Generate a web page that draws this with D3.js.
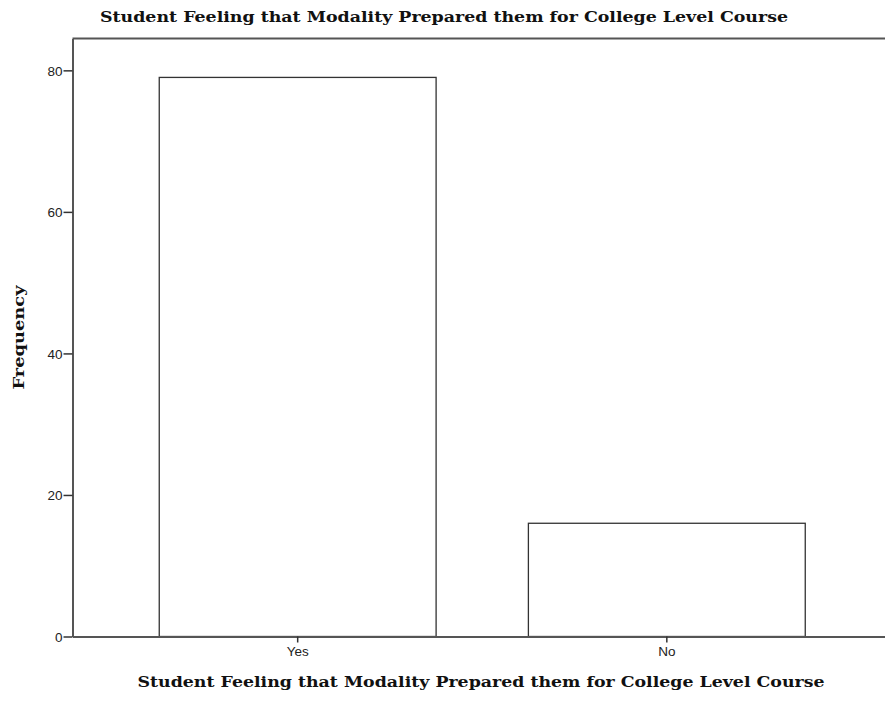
<!DOCTYPE html>
<html>
<head>
<meta charset="utf-8">
<script src="https://cdn.jsdelivr.net/npm/d3@7"></script>
<style>
  body { margin: 0; background: #fff; }
  svg { display: block; }
</style>
</head>
<body>
<main></main>
<script>
const width = 885;
const height = 705;
const margin = { top: 38.5, right: -7, bottom: 68.5, left: 72.5 };

const categories = ['Yes', 'No'];
const frequencies = [79, 16];
const yTicks = [0, 20, 40, 60, 80];
const chartTitle = 'Student Feeling that Modality Prepared them for College Level Course';
const yTitle = 'Frequency';

const data = categories.map((c, i) => ({ label: c, value: frequencies[i] }));

const svg = d3.select('main')
              .append('svg')
              .attr('width', width)
              .attr('height', height);

const x = d3.scaleBand()
            .domain(categories)
            .range([margin.left, width - margin.right])
            .paddingInner(0.25)
            .paddingOuter(0.235);

const y = d3.scaleLinear()
            .domain([0, 84.5])
            .range([height - margin.bottom, margin.top]);

// frame top line
svg.append('line')
   .attr('x1', margin.left).attr('x2', width)
   .attr('y1', margin.top).attr('y2', margin.top)
   .attr('stroke', '#555').attr('stroke-width', 2);

// bars
svg.selectAll('rect.bar')
   .data(data)
   .enter()
   .append('rect')
   .attr('class', 'bar')
   .attr('x', d => x(d.label))
   .attr('y', d => y(d.value))
   .attr('width', x.bandwidth())
   .attr('height', d => y(0) - y(d.value))
   .attr('fill', '#fff')
   .attr('stroke', '#333')
   .attr('stroke-width', 1.3);

const yAxis = svg.append('g')
   .attr('transform', 'translate(' + margin.left + ',0)')
   .call(d3.axisLeft(y).tickValues(yTicks).tickSize(9).tickSizeOuter(0).tickPadding(1));

const xAxis = svg.append('g')
   .attr('transform', 'translate(0,' + y(0) + ')')
   .call(d3.axisBottom(x).tickSize(6).tickPadding(4).tickSizeOuter(0));

[yAxis, xAxis].forEach(g => {
    g.select('.domain').attr('stroke', '#555').attr('stroke-width', 2);
    g.selectAll('.tick line').attr('stroke', '#333').attr('stroke-width', 1.5);
    g.selectAll('.tick text')
     .style('font-family', '"Liberation Sans", Arial, sans-serif')
     .style('font-size', '13.5px')
     .attr('fill', '#222');
});
yAxis.selectAll('.tick text').attr('dy', '0.35em');

const addTitle = (x0, y0, len, rotate) => {
    return svg.append('text')
       .attr('transform', 'translate(' + x0 + ',' + y0 + ')' + (rotate ? ' rotate(-90)' : ''))
       .attr('text-anchor', 'middle')
       .attr('font-family', '"DejaVu Serif", serif')
       .attr('font-weight', 'bold')
       .attr('font-size', 15)
       .attr('fill', '#111')
       .attr('textLength', len)
       .attr('lengthAdjust', 'spacingAndGlyphs');
};

addTitle(444, 22, 688, false).text(chartTitle);
addTitle(481, 687, 687, false).text(chartTitle);
addTitle(24, 337.5, 104, true).text(yTitle);
</script>
</body>
</html>
